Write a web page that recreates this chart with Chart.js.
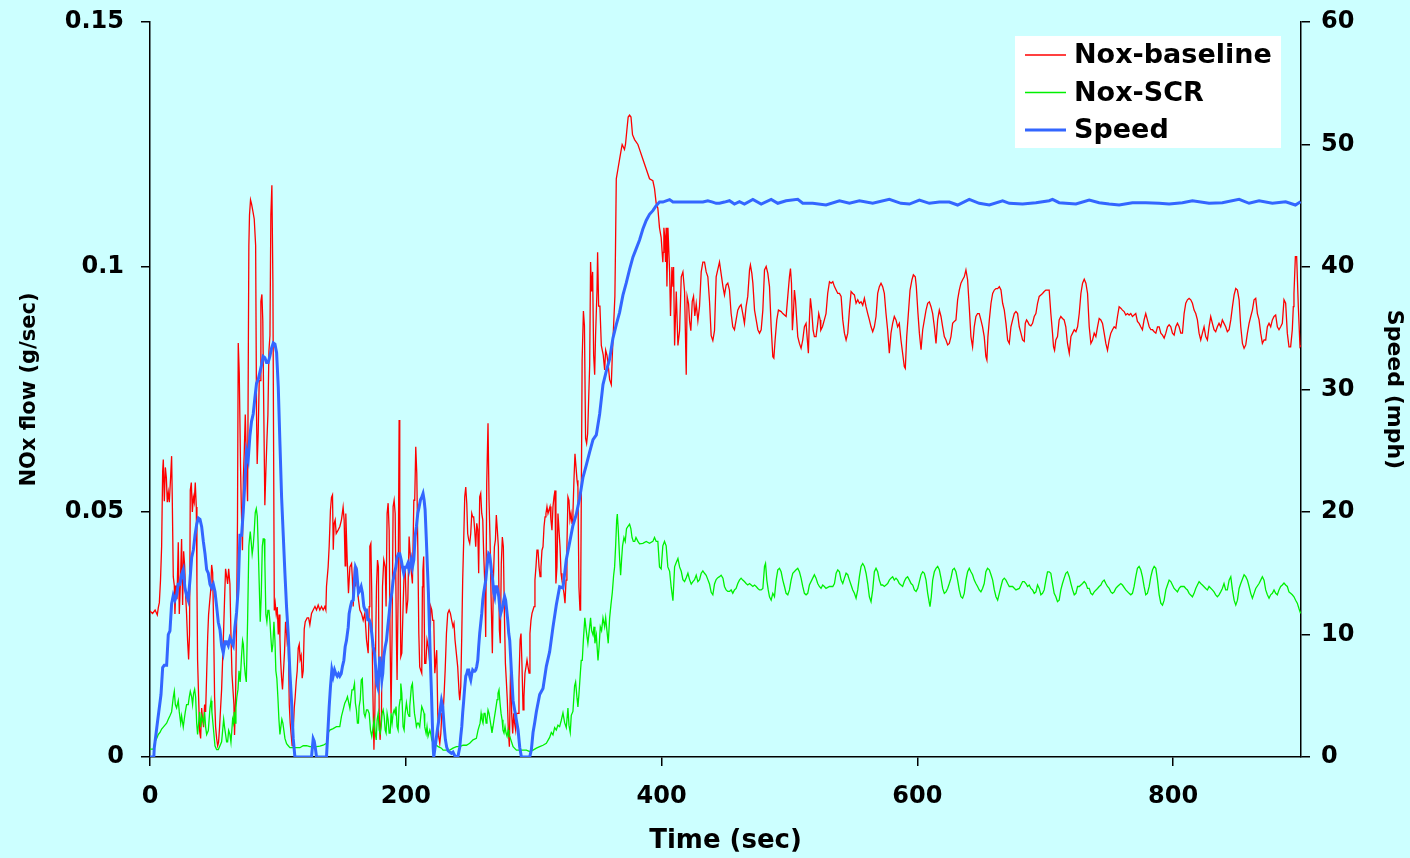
<!DOCTYPE html>
<html>
<head>
<meta charset="utf-8">
<title>NOx flow and speed</title>
<script src="https://cdn.jsdelivr.net/npm/chart.js@4"></script>
<style>
  html, body { margin: 0; padding: 0; background: #ccffff; }
  #wrap { width: 1410px; height: 858px; }
</style>
</head>
<body>
<div id="wrap"><canvas id="noxChart" width="1410" height="858"></canvas></div>
<script>
// tick values on each axis
const timeTicks = [0, 200, 400, 600, 800];
const noxTicks = [0, 0.05, 0.1, 0.15];
const noxTickLabels = ["0", "0.05", "0.1", "0.15"];
const speedTicks = [0, 10, 20, 30, 40, 50, 60];

// [time (sec), NOx flow (g/sec)] without SCR
const noxBaseline = [
  [0,.0298],[2,.0293],[4,.03],[5.7,.029],[6.5,.0305],[7.3,.0315],[8.2,.036],[9.1,.043],[9.9,.0583],[10.4,.0607],
  [11.2,.0522],[12,.0591],[12.8,.057],[13.5,.052],[14.3,.054],[15.1,.052],[16.1,.057],[16.9,.0614],[17.4,.053],[18.2,.0368],
  [19,.035],[19.5,.0292],[20.3,.035],[21.1,.0322],[22.1,.0438],[22.9,.0292],[23.7,.035],[24.7,.0445],[25.5,.031],[26.3,.042],
  [27.1,.039],[27.9,.033],[28.6,.0292],[29.4,.0237],[30.2,.0199],[30.9,.025],[31.5,.0545],[32.3,.056],[33.1,.05],[33.9,.053],
  [34.6,.052],[35.4,.056],[36.2,.051],[36.7,.0353],[37.2,.0199],[38,.0123],[38.8,.0053],[39.6,.0038],[40.4,.01],[41.1,.0077],
  [41.9,.0061],[42.7,.0107],[43.5,.0092],[44.3,.0169],[45.1,.0245],[45.8,.029],[46.6,.0315],[47.4,.0338],[48.2,.0392],[49,.0376],
  [49.7,.0276],[50.5,.0123],[51.3,.0061],[52.1,.0038],[52.9,.0023],[53.6,.003],[54.4,.0061],[55.2,.01],[56,.0138],[56.8,.0199],
  [57.6,.0261],[58.3,.0322],[59.1,.0384],[59.9,.0369],[60.7,.0353],[61.5,.0384],[62.5,.0353],[63.3,.025],[64.1,.0169],[65.6,.0107],
  [66.1,.0045],[66.9,.012],[67.7,.0276],[68.4,.048],[69,.0845],[69.8,.0783],[70.8,.0591],[71.5,.05],[72.3,.0422],[73,.057],
  [73.7,.0622],[74.5,.0699],[75.3,.0614],[76.3,.0522],[77.3,.1044],[77.8,.1106],[78.6,.1137],[79.4,.1129],[80.5,.1113],[81.5,.1098],
  [82.6,.1044],[83.3,.0699],[83.8,.0598],[84.6,.066],[85.4,.0768],[86.2,.0768],[86.7,.093],[87.5,.0944],[88.2,.0891],[89,.0699],
  [89.8,.0514],[90.6,.0583],[91.4,.0645],[92.2,.0699],[93,.0829],[93.8,.086],[94.5,.1106],[95.3,.1167],[96.1,.0967],[96.6,.066],
  [97.2,.0299],[97.9,.0314],[98.7,.0291],[99.5,.0306],[100.3,.025],[101,.0291],[101.6,.0242],[102.1,.0199],[102.9,.0161],[103.6,.0138],
  [104.4,.0176],[105.2,.0215],[106,.0276],[106.8,.0253],[107.3,.0233],[108.1,.0242],[108.9,.0107],[109.6,.007],[110.4,.0045],[111.2,.0022],
  [112,.0053],[112.8,.01],[113.5,.0122],[114.3,.0153],[115.1,.0176],[115.9,.0222],[116.7,.023],[117.4,.0199],[118.2,.0207],[119,.0161],
  [119.8,.0176],[120.6,.0261],[121.4,.0276],[122.9,.0284],[124,.0284],[125,.027],[126.3,.0293],[127.6,.03],[129,.0307],[130.2,.03],
  [131.5,.031],[132.8,.03],[134.1,.0307],[135.4,.03],[136.7,.0307],[137.5,.03],[138,.0348],[139.3,.0388],[140.1,.043],[141.1,.0504],
  [141.9,.053],[142.7,.0535],[143.3,.0423],[144,.0477],[144.8,.0484],[145.6,.0456],[147.1,.0463],[148.4,.047],[149.7,.0484],[151,.051],
  [151.8,.0484],[152.6,.039],[153.1,.0497],[154.2,.0402],[155.2,.0334],[156.3,.0388],[157.6,.0395],[158.3,.0361],[158.9,.0307],[159.9,.0388],
  [160.6,.0348],[161.5,.0388],[162.2,.0348],[163,.0321],[164.1,.03],[165.4,.0293],[166.7,.0279],[168,.0293],[169.3,.0239],[170.6,.0212],
  [171.4,.0307],[171.9,.043],[172.7,.0436],[173.4,.0334],[174.1,.0157],[175.1,.0015],[175.8,.0089],[176.6,.0259],[177.1,.0348],[177.9,.0402],
  [178.6,.0388],[179.2,.0089],[179.9,.0035],[181,.0089],[181.8,.0348],[182.8,.0402],[183.9,.0388],[184.6,.0307],[185.4,.0497],[186.2,.0518],
  [187,.0463],[187.8,.0225],[188.5,.0089],[189.3,.0253],[190.1,.0511],[190.9,.0524],[191.7,.0497],[192.7,.0239],[193.2,.0157],[194,.0327],
  [194.8,.0688],[195.3,.0497],[196.1,.0205],[196.9,.0212],[197.9,.0307],[198.7,.0375],[199.5,.0388],[200.5,.0293],[201.6,.0321],[202.6,.045],
  [203.1,.045],[204.4,.0375],[205.2,.0354],[206.3,.0524],[207,.0524],[207.8,.0633],[208.6,.0579],[209.4,.0429],[210.2,.0252],[210.9,.0184],
  [211.7,.0177],[212.5,.0171],[213,.0347],[213.4,.038],[214,.0409],[214.8,.0191],[215.7,.0191],[216.6,.0239],[217.6,.0225],[218.8,.0191],
  [219.5,.0307],[220.3,.03],[221.1,.0279],[221.9,.0279],[222.7,.0171],[223.5,.0198],[224.2,.0218],[225,.0089],[225.8,.0041],[226.6,.0028],
  [227.4,.0048],[228.2,.0089],[229.2,.0089],[230,.013],[230.8,.0177],[231.8,.0252],[232.8,.0293],[233.9,.03],[234.9,.0293],[235.9,.0279],
  [236.9,.0266],[237.7,.0273],[238.5,.0239],[240.6,.0184],[241.7,.013],[242.2,.0116],[243,.0144],[243.8,.0252],[244.5,.0361],[245.3,.0443],
  [246.1,.0531],[246.9,.0551],[247.7,.0517],[248.4,.0456],[249.2,.0443],[250,.0436],[250.8,.0456],[251.6,.0497],[252.3,.049],[253.1,.049],
  [253.9,.0463],[254.7,.0429],[255.5,.0477],[256.3,.0463],[257,.0375],[257.8,.0531],[258.6,.0538],[259.4,.0497],[260.2,.0484],[260.9,.0416],
  [261.7,.0361],[262.5,.0245],[263.3,.0559],[264.3,.0681],[265.1,.0524],[265.9,.0443],[266.7,.0327],[267.7,.0212],[268.5,.0361],[269.3,.0429],
  [270.1,.0443],[270.8,.0494],[271.6,.0463],[272.4,.0429],[273.2,.0259],[273.9,.0232],[274.7,.0395],[275.5,.0449],[276.3,.0429],[277.1,.0293],
  [277.9,.0191],[278.6,.0157],[279.4,.0116],[280.2,.0055],[281,.0021],[282,.0198],[282.8,.0089],[283.6,.0048],[284.4,.0089],[285.1,.0069],
  [285.9,.0055],[286.7,.0089],[287.8,.0089],[288.5,.0157],[289.4,.0239],[290.1,.0252],[290.9,.0184],[291.7,.0096],[292.4,.0123],[293.2,.0171],
  [294,.0184],[294.8,.0198],[295.6,.0184],[296.4,.0171],[297.1,.0252],[297.9,.0279],[298.7,.0293],[299.5,.03],[300.3,.0307],[301,.0361],
  [301.8,.0388],[302.6,.0422],[303.4,.0422],[304.2,.0388],[305,.0368],[305.7,.0388],[306.5,.0422],[307.3,.0429],[308.1,.047],[308.9,.049],
  [309.6,.0497],[310.4,.0511],[311.2,.0497],[312,.0504],[312.8,.0511],[313.5,.0484],[314.3,.0463],[315.1,.0511],[315.9,.0531],[316.7,.0544],
  [317.4,.0354],[318.2,.0388],[319,.0497],[319.8,.0463],[320.6,.0429],[321.4,.0375],[322.1,.0361],[322.9,.0348],[323.7,.0334],[324.5,.0314],
  [325.3,.0361],[326,.0429],[326.8,.0531],[327.6,.0524],[328.4,.0484],[329.2,.0497],[330,.0477],[330.7,.0497],[331.5,.0565],[332.3,.0619],
  [333.1,.0592],[333.9,.0565],[334.6,.0551],[335.4,.0347],[336.2,.03],[336.7,.03],[337.9,.081],[338.9,.091],[339.7,.088],[340.6,.065],
  [341.4,.064],[342.2,.066],[343.8,.08],[344.5,.101],[345.3,.095],[346.1,.099],[346.9,.082],[347.7,.078],[348.4,.086],[349.5,.095],
  [350,.103],[350.8,.092],[351.8,.092],[352.9,.084],[354.4,.082],[355.5,.079],[356.3,.083],[357.3,.082],[358.3,.08],[359.4,.077],
  [360.7,.076],[361.5,.082],[363.5,.094],[364,.104],[364.6,.118],[365.9,.12],[367.2,.122],[368.5,.124],[369.2,.125],[370.1,.1245],
  [371,.124],[371.8,.125],[372.9,.128],[373.9,.1306],[375,.131],[376.1,.1306],[377.3,.127],[378.9,.126],[381.5,.125],[382.8,.124],
  [385.4,.122],[388,.12],[390.6,.118],[393.2,.1176],[394.5,.116],[395.8,.113],[397.1,.112],[398.4,.108],[399.7,.106],[401,.101],
  [401.3,.103],[401.8,.108],[402.6,.106],[403.1,.101],[403.6,.108],[404.2,.096],[405,.108],[406.3,.099],[407,.09],[408.1,.1],
  [408.9,.096],[409.4,.1],[410.2,.084],[411.5,.095],[412.8,.084],[414.1,.087],[415.4,.098],[416.7,.099],[418,.095],[419.3,.078],
  [420,.094],[421.1,.0925],[421.9,.089],[422.9,.087],[424,.093],[425,.094],[426,.09],[427.1,.0925],[428.4,.089],[429.7,.092],
  [431,.099],[432.3,.101],[433.6,.101],[434.9,.099],[436.2,.098],[437.5,.093],[438.8,.086],[440.1,.085],[441.4,.087],[442.7,.098],
  [444,.0995],[445.3,.101],[448,.096],[449.2,.0943],[450.5,.0963],[451.8,.0967],[453.1,.0953],[454.4,.0905],[455.7,.0878],[457,.0872],
  [458.3,.0892],[459.6,.0912],[460.9,.0919],[462.2,.0923],[463.5,.0905],[464.8,.0885],[466.1,.0919],[467.4,.094],[468.8,.0994],[469.5,.1004],
  [470.6,.0987],[471.4,.0967],[472.7,.0912],[474,.0892],[475.3,.0872],[476.6,.0865],[477.9,.0872],[479.2,.0912],[480.5,.0994],[481.8,.1001],
  [483.1,.0987],[484.4,.096],[485.7,.0878],[487,.0817],[487.8,.0814],[488.8,.0851],[490.1,.0892],[491.4,.0912],[493.5,.0909],[494.8,.0905],
  [496.1,.0902],[497.4,.0899],[498.7,.094],[500,.098],[500.8,.0997],[501.6,.0967],[502.3,.0871],[503.1,.0905],[503.9,.0953],[504.7,.0933],
  [506.5,.0858],[507.8,.0844],[509.1,.0834],[510.4,.0851],[511.7,.0878],[513,.0885],[513.8,.0858],[514.8,.0824],[515.6,.0892],[516.4,.0936],
  [517.4,.0912],[518.5,.0871],[519.5,.0858],[520.8,.0858],[522.1,.0885],[522.9,.0905],[524,.0892],[524.5,.0871],[525.8,.0878],[527.3,.0892],
  [528.6,.0905],[529.9,.0946],[531.3,.097],[532.6,.0967],[533.9,.097],[535.2,.096],[536.5,.0953],[537.8,.0946],[539.1,.0946],[540.4,.094],
  [541.7,.0892],[543,.0865],[544.3,.0851],[545.6,.0865],[546.9,.0912],[548.2,.095],[549.5,.0946],[550.8,.0943],[552.1,.0926],[553.4,.0933],
  [554.7,.0926],[556,.0929],[557.3,.0922],[558.6,.0936],[559.9,.0919],[561.2,.0905],[562.5,.0892],[563.8,.0878],[565.1,.0868],[566.4,.0878],
  [567.7,.0899],[569,.0946],[570.3,.096],[571.6,.0967],[572.9,.096],[574.2,.0946],[575.5,.0905],[576.8,.0871],[578.1,.0824],[579.4,.0865],
  [580.7,.0885],[582,.0899],[583.3,.0892],[584.6,.0878],[585.9,.0885],[587.2,.0851],[588.5,.0824],[589.8,.0797],[590.6,.0793],[591.7,.0858],
  [593,.0905],[594.3,.0953],[595.8,.0974],[596.9,.0984],[598.4,.098],[599.2,.096],[600.5,.0905],[601.6,.0865],[602.9,.0831],[604.2,.0872],
  [605.5,.0892],[606.8,.0912],[608.1,.0926],[609.4,.0929],[610.7,.0919],[612,.0905],[613.3,.0878],[614.6,.0844],[615.9,.0892],[617.2,.0912],
  [618.5,.0899],[619.8,.0878],[621.1,.0858],[622.4,.0851],[623.7,.0841],[625,.0844],[626.3,.0858],[627.6,.0885],[628.9,.0889],[630.2,.0892],
  [631.5,.0933],[632.8,.0953],[634.1,.0967],[635.4,.0974],[636.7,.098],[638,.0994],[639.3,.0974],[640.6,.0919],[641.9,.0858],[643.2,.0837],
  [644.5,.0878],[645.8,.0899],[647.1,.0905],[648.4,.0905],[649.7,.0892],[651,.0878],[652.3,.0858],[653.6,.0817],[654.4,.081],[655.2,.0858],
  [656.3,.0892],[657.6,.0926],[658.9,.0946],[660.2,.0953],[661.5,.0956],[662.8,.0956],[664.1,.096],[665.4,.0953],[666.7,.0926],[668,.0912],
  [669.3,.0885],[670.6,.0851],[671.9,.0844],[673.2,.0878],[674.5,.0892],[675.8,.0905],[677.1,.0909],[678.4,.0905],[679.7,.0878],[681,.0865],
  [682.3,.0851],[683.6,.0848],[684.4,.0885],[685.4,.0892],[686.2,.0889],[687.5,.0882],[688.8,.088],[690.1,.0885],[691.4,.0899],[692.7,.0905],
  [694,.0926],[695.3,.094],[696.6,.0943],[697.9,.0946],[699.2,.095],[700.5,.0953],[701.8,.0953],[703.1,.0953],[704.4,.0905],[705.7,.0865],
  [706.5,.0837],[707.3,.083],[708.3,.0851],[709.6,.0858],[710.9,.0892],[712.2,.0899],[713.5,.0895],[714.8,.0892],[716.1,.0878],[717.4,.0844],
  [718.8,.0824],[720.1,.0858],[721.4,.0865],[722.7,.0872],[724,.0868],[725.3,.0878],[726.6,.0905],[727.9,.0946],[729.2,.0967],[730.5,.0975],
  [731.8,.0967],[733.1,.0946],[734.4,.0878],[735.7,.0844],[737,.0851],[738.3,.0865],[739.6,.0858],[740.9,.0878],[742.2,.0895],[743.5,.0892],
  [744.8,.0885],[746.1,.0865],[747.4,.0844],[748.7,.083],[750,.0851],[751.3,.0865],[752.6,.0872],[753.9,.0878],[755.2,.0875],[756.5,.0899],
  [757.8,.0919],[759.1,.0916],[760.4,.0912],[761.7,.0909],[763,.0902],[764.3,.0905],[765.6,.0902],[766.9,.0905],[768.2,.0899],[769.5,.0902],
  [770.8,.0905],[772.1,.0889],[773.4,.0885],[774.7,.0878],[776,.0872],[777.3,.0892],[778.6,.0905],[779.9,.0892],[781.3,.0878],[782.6,.0872],
  [783.9,.0872],[785.2,.0868],[786.5,.0865],[787.8,.0878],[789.1,.0878],[790.4,.0865],[791.7,.0861],[793,.0855],[794.3,.0865],[795.6,.0878],
  [796.9,.0882],[798.2,.0878],[799.5,.0865],[800.8,.0861],[802.1,.0878],[803.4,.0885],[804.7,.0878],[806,.0865],[807.3,.0865],[808.6,.0905],
  [809.9,.0926],[811.2,.0933],[812.5,.0936],[813.8,.0933],[815.1,.0926],[816.4,.0912],[817.7,.0905],[819,.0892],[820.3,.0865],[821.6,.0851],
  [822.9,.0865],[824.2,.0878],[825.5,.0858],[826.8,.0851],[828.1,.0878],[829.4,.0899],[830.7,.0885],[832,.0872],[833.3,.0868],[834.6,.0878],
  [835.9,.0885],[837.2,.0878],[838.5,.0892],[839.8,.0885],[841.1,.0878],[842.4,.0868],[843.8,.0872],[845.1,.0892],[846.4,.0919],[847.7,.0943],
  [849,.0956],[850.3,.0953],[851.6,.0933],[852.9,.0878],[854.2,.0844],[855.5,.0834],[856.8,.0841],[858.1,.0865],[859.4,.0885],[860.7,.0899],
  [862,.0912],[863.3,.0933],[864.6,.0936],[865.9,.0905],[867.2,.0892],[868.5,.0865],[869.8,.0844],[871.1,.0851],[872.4,.0851],[873.7,.0878],
  [875,.0885],[876.3,.0878],[877.6,.0892],[878.9,.0899],[880.2,.0902],[881.5,.0878],[882.8,.0872],[884.1,.0878],[885.4,.0885],[886.7,.0933],
  [888,.0926],[889.3,.0865],[890.6,.0837],[891.9,.0837],[893.2,.0872],[894,.0919],[894.5,.0946],[895.6,.1021],[896.6,.1021],[897.9,.092],
  [899.2,.0837],[900,.084]
];

// [time (sec), NOx flow (g/sec)] with SCR
const noxScr = [
  [0,.0016],[2.6,.0016],[3.9,.0031],[5.2,.0038],[6.5,.0046],[7.8,.005],[9.1,.0057],[10.4,.0061],[11.7,.0065],[13,.0069],
  [14.3,.0077],[15.6,.0084],[16.9,.0092],[18.2,.0122],[19,.0134],[19.8,.0107],[20.8,.01],[22.1,.0115],[22.9,.0092],[24,.0069],
  [24.7,.0084],[26,.0061],[26.8,.0077],[27.6,.0092],[28.6,.0107],[29.9,.0107],[30.7,.0122],[31.5,.0134],[32.6,.0122],[33.3,.0107],
  [34.1,.013],[34.9,.0138],[35.7,.0122],[36.5,.0069],[37.2,.0046],[38,.0069],[38.8,.0092],[39.6,.0061],[40.4,.0084],[41.1,.0077],
  [41.9,.0069],[42.7,.0092],[43.5,.0061],[44.3,.0046],[45.6,.0054],[46.9,.01],[47.7,.0115],[48.4,.0092],[49.2,.0069],[50,.0046],
  [50.8,.0023],[52.1,.0015],[53.4,.0015],[54.7,.0023],[56,.0031],[56.8,.0054],[57.6,.0077],[58.3,.0061],[59.1,.0046],[59.9,.0031],
  [60.7,.0031],[61.5,.0054],[62.5,.0046],[63.3,.003],[64.6,.0077],[65.3,.0069],[65.9,.0092],[66.6,.0069],[67.2,.01],[67.9,.0122],
  [68.8,.0138],[69.6,.0176],[70.5,.0153],[71.6,.0207],[72.4,.0238],[73,.023],[73.7,.0191],[74.5,.0168],[75.3,.0153],[76.3,.0276],
  [77.3,.043],[77.8,.0445],[78.4,.046],[79.2,.0437],[79.9,.0414],[80.7,.043],[81.5,.046],[82.3,.0499],[83.1,.0507],[83.9,.0491],
  [84.6,.043],[85.4,.0353],[86.2,.0276],[87,.033],[87.8,.043],[88.5,.0445],[89.3,.0445],[89.8,.0399],[90.6,.0291],[91.4,.0276],
  [92.2,.0299],[93,.0299],[93.8,.0276],[94.5,.0245],[95.3,.0214],[96.1,.023],[96.9,.0276],[97.7,.0238],[98.4,.0176],[99.2,.016],
  [100,.0122],[100.8,.0077],[101.6,.0046],[102.3,.0061],[103.1,.0077],[103.9,.0069],[104.7,.0054],[105.5,.0038],[106.8,.0027],[108.1,.0023],
  [109.4,.0019],[112,.0019],[114.6,.0019],[117.2,.0019],[119.8,.0023],[122.4,.0023],[125,.0021],[127.6,.0021],[130.2,.0021],[132.8,.0022],
  [135.4,.0024],[138,.0028],[139.3,.0049],[140.6,.0055],[143.2,.0058],[145.8,.0062],[148.4,.0062],[149.7,.0083],[151,.0096],[152.3,.011],
  [153.6,.0117],[154.4,.0123],[155.2,.0113],[156.3,.0099],[157.1,.0117],[157.9,.0137],[158.9,.0137],[159.9,.015],[160.6,.011],[161.4,.0096],
  [162.2,.0069],[163,.0069],[163.5,.0103],[164.4,.0117],[165.2,.0157],[166,.016],[166.7,.0117],[167.4,.0089],[168.2,.0082],[169.3,.0096],
  [170.3,.0096],[171.4,.0089],[172.4,.0055],[173.4,.0042],[174.5,.0062],[175.3,.0076],[176.1,.0049],[176.9,.0035],[177.6,.0076],[178.4,.0089],
  [179.2,.0055],[180,.0049],[180.7,.0062],[181.5,.0089],[182.3,.0096],[183.1,.0083],[183.9,.0055],[184.6,.0049],[185.4,.0089],[186.2,.0076],
  [187,.0049],[187.8,.0049],[188.5,.0089],[189.3,.0069],[190.1,.0089],[190.9,.0096],[191.7,.0089],[192.4,.0103],[193.2,.0062],[194,.0055],
  [194.8,.0103],[195.6,.0117],[196.1,.015],[196.9,.013],[197.9,.0062],[198.7,.0055],[199.5,.0089],[200.5,.011],[201.6,.0089],[202.6,.0083],
  [203.1,.0103],[204.4,.0144],[205.2,.015],[206,.0117],[206.8,.0089],[207.6,.0076],[208.3,.0062],[209.1,.0069],[209.9,.0069],[210.9,.0062],
  [211.7,.0083],[212.5,.0103],[213.5,.0096],[214.3,.0089],[214.8,.0062],[215.9,.0048],[216.6,.0062],[217.4,.0042],[218.8,.0055],[219.5,.0048],
  [220.3,.0035],[221.4,.0028],[222.7,.0021],[224,.0024],[225.3,.0021],[227.9,.0018],[229.2,.0014],[231.8,.0014],[234.4,.0014],[236.9,.0018],
  [239.6,.0021],[242.2,.0021],[244.8,.0024],[247.4,.0024],[250,.0028],[252.6,.0035],[255.2,.0038],[256.5,.0055],[257.3,.0062],[258.1,.0069],
  [258.9,.0089],[259.6,.0076],[260.4,.0069],[261.2,.0089],[262,.0089],[262.8,.0069],[263.5,.0076],[264.3,.0096],[265.1,.0089],[265.9,.0076],
  [266.7,.0062],[267.4,.0049],[268.2,.0062],[269,.0076],[269.8,.0089],[270.6,.0103],[271.4,.0117],[272.1,.013],[272.9,.0137],[273.7,.011],
  [274.5,.0089],[275.3,.0076],[276,.0055],[276.8,.0049],[277.6,.0062],[278.4,.0049],[279.2,.0042],[280,.0055],[280.7,.0042],[281.3,.0042],
  [283.9,.0021],[286.5,.0014],[289.1,.0014],[294.3,.0014],[296.9,.0011],[299.5,.0014],[302.1,.0018],[304.7,.0021],[307.3,.0024],[309.9,.0028],
  [312.5,.004],[313.8,.005],[315.1,.0045],[316.4,.006],[317.7,.0055],[319,.0065],[320.3,.0062],[321.6,.0075],[322.9,.009],[324.2,.007],
  [325.5,.006],[326.8,.01],[327.6,.0065],[328.6,.005],[329.4,.0085],[330.7,.0093],[332,.0145],[332.8,.0153],[333.9,.012],[334.6,.0102],
  [335.4,.0128],[336.5,.0171],[337.2,.0197],[338,.0197],[338.9,.024],[340,.0284],[341.1,.0258],[342.4,.0232],[343.8,.0266],[344.5,.0284],
  [345.3,.0258],[346.4,.0249],[347.2,.0266],[347.9,.0232],[349,.0249],[350.3,.0197],[351.1,.0223],[352.1,.0266],[353.1,.0258],[354.2,.0284],
  [355.5,.0266],[356.3,.0284],[357.3,.0258],[358.3,.0232],[359.4,.0284],[360.4,.031],[361.5,.0336],[362.5,.037],[363.3,.0388],[364.1,.0431],
  [364.9,.0483],[365.4,.0496],[366.1,.0466],[367.2,.0405],[368,.0371],[368.8,.0405],[369.5,.0431],[370.6,.0448],[371.6,.044],[372.6,.0466],
  [373.6,.047],[375,.0475],[376,.0466],[376.9,.0448],[377.9,.044],[379,.044],[380,.0448],[381.5,.044],[382.8,.0435],[385.4,.0436],
  [388,.044],[390.6,.0436],[393.2,.044],[394.5,.0448],[395.8,.044],[397.1,.044],[398.4,.0388],[399.7,.0384],[401,.0431],[402.3,.044],
  [403.6,.0431],[404.9,.0388],[406.3,.0379],[407.6,.0345],[408.9,.0319],[410.2,.0388],[411.5,.0397],[412.8,.0405],[414.1,.0388],[415.4,.0379],
  [416.7,.0362],[418,.0358],[419.3,.0366],[420.6,.0375],[421.9,.0362],[423.2,.0353],[424.5,.0358],[425.8,.0362],[427.1,.0371],[428.4,.0358],
  [429.7,.0362],[431,.0375],[432.3,.038],[433.6,.0375],[434.9,.0371],[436.2,.0362],[437.5,.0353],[438.8,.0336],[440.1,.0331],[441.4,.0353],
  [442.7,.0362],[444,.0366],[445.3,.0368],[446.6,.0371],[448,.0365],[449.2,.0348],[450.5,.0341],[451.8,.0338],[453.1,.0338],[454.4,.0341],
  [455.7,.0334],[457,.0341],[458.3,.0344],[459.6,.0354],[460.9,.0361],[462.2,.0365],[463.5,.0361],[464.8,.0358],[466.1,.0354],[467.4,.0351],
  [468.8,.0354],[470.1,.0351],[471.4,.0348],[472.7,.0351],[474,.0348],[475.3,.0344],[476.6,.0341],[477.9,.0341],[479.2,.0344],[480.5,.0389],
  [481.3,.0395],[482.3,.0361],[483.4,.0341],[484.4,.0327],[485.7,.032],[487,.0334],[488.3,.0327],[489.6,.0361],[490.9,.0382],[492.2,.0385],
  [493.5,.0378],[494.8,.0361],[496.1,.0348],[497.4,.0334],[498.7,.0331],[500,.0341],[501.3,.0361],[502.6,.0375],[505.2,.0382],[506.5,.0385],
  [507.8,.0378],[509.1,.0365],[510.4,.0348],[511.7,.0334],[513,.0331],[514.3,.0334],[515.6,.0351],[518.2,.0365],[519.5,.0372],[520.8,.0365],
  [522.1,.0354],[523.4,.0348],[524.7,.0344],[526,.0351],[527.3,.0348],[528.6,.0344],[531.3,.0348],[533.9,.0348],[535.2,.0354],[536.5,.0375],
  [537.8,.0382],[539.1,.0378],[540.4,.0361],[541.7,.0354],[543,.0365],[544.3,.0375],[545.6,.0372],[546.9,.0361],[548.2,.0351],[549.5,.0341],
  [550.8,.0334],[552.1,.0324],[553.4,.0341],[554.7,.0368],[556,.0389],[557.3,.0395],[558.6,.0389],[559.9,.0375],[561.2,.0354],[562.5,.0327],
  [563.8,.0317],[565.1,.0341],[566.4,.0378],[567.7,.0385],[569,.0378],[570.3,.0361],[571.6,.0351],[572.9,.0351],[574.2,.0348],[575.5,.0351],
  [576.8,.0354],[578.1,.0361],[579.4,.0365],[580.7,.0368],[582,.0361],[583.3,.0365],[584.6,.0361],[585.9,.0354],[587.2,.0351],[588.5,.0348],
  [589.8,.0358],[591.1,.0365],[592.4,.0368],[593.8,.0361],[595.1,.0354],[596.4,.0351],[597.7,.0341],[599,.0338],[600.3,.0344],[601.6,.0358],
  [602.9,.0372],[604.2,.0378],[605.5,.0375],[606.8,.0361],[608.1,.0334],[609.4,.0314],[609.9,.0307],[610.9,.0327],[612,.0361],[613.3,.0378],
  [614.6,.0385],[615.9,.0389],[617.2,.0382],[618.5,.0365],[619.8,.0344],[621.1,.0334],[622.4,.0337],[623.7,.0344],[625,.0354],[626.3,.0365],
  [627.6,.0382],[628.9,.0385],[630.2,.0378],[631.5,.0361],[632.8,.0341],[634.1,.0327],[635.4,.0324],[636.7,.0334],[638,.0361],[639.3,.0378],
  [640.6,.0385],[641.9,.0378],[643.2,.0372],[644.5,.0361],[645.8,.0354],[647.1,.0348],[648.4,.0341],[649.7,.0337],[651,.0344],[652.3,.0354],
  [653.6,.0378],[654.9,.0385],[656.3,.0382],[657.6,.0372],[658.9,.0361],[660.2,.0341],[661.5,.0327],[662.8,.032],[664.1,.0334],[665.4,.0348],
  [666.7,.0361],[668,.0365],[669.3,.0361],[670.6,.0354],[671.9,.0348],[674.5,.0348],[677.1,.0341],[679.7,.0344],[681,.0351],[682.3,.0358],
  [683.6,.0358],[684.9,.0354],[686.2,.0348],[687.5,.0351],[688.8,.0344],[690.1,.0341],[691.4,.0334],[692.7,.0337],[694,.0351],[695.3,.0344],
  [696.6,.0331],[697.9,.0334],[699.2,.0341],[700.5,.0361],[701.8,.0378],[703.1,.0378],[704.4,.0375],[705.7,.0354],[707,.0334],[708.3,.0327],
  [709.6,.0317],[710.9,.032],[712.2,.0341],[713.5,.0354],[714.8,.0365],[716.1,.0375],[717.4,.0378],[718.8,.0368],[720.1,.0354],[721.4,.0341],
  [722.7,.0331],[724,.0334],[725.3,.0348],[726.6,.0348],[729.2,.0354],[730.5,.0358],[731.8,.0354],[733.1,.0344],[734.4,.0344],[735.7,.0334],
  [737,.0331],[738.3,.0337],[740.9,.0344],[742.2,.0348],[743.5,.0351],[744.8,.0358],[746.1,.0361],[747.4,.0354],[748.7,.0348],[750,.0344],
  [751.3,.0337],[752.6,.0334],[753.9,.0337],[755.2,.0344],[756.5,.0348],[757.8,.0351],[759.1,.0354],[760.4,.0351],[763,.0341],[765.6,.0334],
  [766.9,.0331],[768.2,.0334],[769.5,.0348],[770.8,.0368],[772.1,.0385],[773.4,.0389],[774.7,.0382],[776,.0368],[777.3,.0348],[778.6,.0331],
  [779.9,.0334],[781.3,.0348],[782.6,.0368],[783.9,.0382],[785.2,.0389],[786.5,.0385],[787.8,.0361],[789.1,.0331],[790.4,.0314],[791.7,.031],
  [793,.032],[794.3,.0341],[795.6,.0351],[796.9,.0361],[798.2,.0358],[799.5,.0351],[800.8,.0344],[803.4,.0337],[804.7,.0344],[806,.0348],
  [808.6,.0348],[809.9,.0344],[811.2,.0341],[812.5,.0334],[815.1,.0327],[816.4,.0334],[817.7,.0344],[819,.0351],[820.3,.0358],[821.6,.0354],
  [822.9,.0351],[825.5,.0344],[826.8,.0341],[828.1,.0348],[830.7,.0341],[832,.0337],[833.3,.0331],[834.6,.0327],[835.9,.0331],[837.2,.0337],
  [838.5,.0344],[839.8,.0354],[841.1,.0341],[842.4,.0341],[843.8,.0361],[845.1,.0368],[846.4,.0341],[847.7,.032],[849,.031],[850.3,.032],
  [851.6,.0344],[852.9,.0354],[855.5,.0372],[856.8,.0368],[858.1,.0361],[859.4,.0348],[860.7,.0334],[862,.0324],[863.3,.0334],[864.6,.0344],
  [867.2,.0354],[868.5,.0361],[869.8,.0368],[871.1,.0361],[872.4,.0341],[873.7,.0331],[875,.0324],[876.3,.0331],[877.6,.0334],[878.9,.0341],
  [880.2,.0334],[881.5,.0331],[882.8,.0341],[884.1,.0348],[885.4,.0351],[886.7,.0355],[888,.0351],[889.3,.0348],[890.6,.0337],[891.9,.0334],
  [893.2,.0331],[894.5,.0327],[895.8,.032],[897.1,.0314],[898.4,.0303],[899.7,.0293]
];

// [time (sec), vehicle speed (mph)]
const speed = [
  [0,0],[3,0],[3.3,0.7],[5.9,2.9],[8.6,5.1],[9.9,7.3],[11.2,7.5],[13,7.5],[14.3,10],[15.6,10.3],
  [16.9,12.5],[18.2,13.2],[19.5,12.8],[20.8,13.2],[22,14.1],[23.4,14.1],[24.7,14.9],[26,15.3],[27.3,13.8],[28.6,13.2],
  [29.9,12.8],[31.3,14.5],[32.6,16.3],[33.9,16.9],[35.2,18.1],[36.5,19],[37.8,19.5],[39.1,19.4],[40.4,18.8],[41.7,17.6],
  [43,16.6],[44.3,15.3],[45.6,15],[46.9,14.1],[48.2,13.8],[49.5,14.1],[50.8,13.5],[52.1,12.3],[53.4,11],[54.7,10.4],
  [56,9.1],[57.3,8.5],[58.6,9.4],[59.9,9.4],[61.2,9.1],[62.5,9.7],[63.8,9.4],[65.1,9.1],[66.4,10.6],[67.7,11.8],
  [69,13.8],[70.3,18.1],[71.6,18.1],[72.9,20],[74.2,22.5],[75.5,24.9],[76.8,24.3],[78.1,26.2],[79.4,27.4],[80.7,28],
  [82,29.3],[83.3,30.5],[84.6,30.8],[85.9,31.4],[87.2,32],[88.5,32.7],[89.8,32.6],[91.1,32.2],[92.4,32.2],[93.7,32.7],
  [95.1,33.4],[96.4,33.8],[97.7,33.7],[99,33],[100.3,30.2],[101.6,25.6],[102.9,21.2],[104.2,18.1],[105.5,15],[106.8,12.2],
  [108.1,10],[109.4,6.9],[110.7,4.5],[112,1.5],[113.3,0],[126.3,0],[127.6,1.5],[128.4,1.3],[129.2,0.8],[130.2,0],
  [138,0],[139.3,2.5],[140.1,4.1],[141.1,5.7],[142.2,7.1],[143.2,6.6],[144.3,7.1],[145.3,6.8],[146.4,6.6],[147.4,6.8],
  [148.4,6.6],[149.5,6.8],[150.5,7.4],[151.6,7.9],[152.6,9],[153.6,9.5],[155,10.6],[155.7,11.7],[156.8,12.3],[157.8,12.7],
  [158.9,12.8],[159.9,14.4],[160.7,15.5],[161.5,15.3],[162.2,14.4],[163,13.4],[164.1,13.6],[165.1,13.9],[166.1,13.4],[167.2,12.3],
  [168.2,12],[169.3,12],[170.3,11.2],[171.4,11.2],[172.4,10.9],[173.4,10.1],[174.5,9],[175.5,8.5],[176.6,7.1],[177.3,6],
  [178.1,5.7],[178.9,6.8],[179.7,8.2],[180.5,7.4],[181.3,6.3],[182,6.8],[182.8,8.2],[183.9,9],[184.9,9.5],[185.9,10.6],
  [187,11.7],[188,12.8],[189.1,13.4],[190.1,14.4],[191.1,15],[192.2,15.5],[193.2,16.3],[194.3,16.6],[195.3,16.6],[196.4,16.1],
  [197.4,15.5],[198.4,15],[199.5,15.5],[200.5,15.5],[201.6,15.8],[202.6,15.3],[204.2,16.1],[205.2,15.5],[206.3,16.1],[207.3,18],
  [208.3,18.8],[209.4,19.9],[210.4,20.4],[211.5,21],[212.5,21.2],[213.5,21.5],[214.3,21],[215.1,20.2],[216.1,17.7],[216.9,15.5],
  [217.7,13.4],[218.5,10.6],[219.3,7.6],[220.1,5.2],[220.8,2.7],[221.4,0.8],[221.9,0],[222.9,0.8],[223.7,1.4],[224.7,2.2],
  [225.8,3],[226.8,3.8],[227.9,4.6],[228.9,4.1],[230,2.5],[231,1.4],[232,0.8],[233.1,0.5],[234.4,0.4],[235.7,0.3],
  [236.9,0.4],[238.3,0.1],[239.6,0],[240.9,0.1],[242.2,0.8],[243,1.7],[243.8,2.5],[244.5,3.6],[245.3,4.6],[246.1,5.7],
  [246.9,6.6],[247.7,6.8],[248.4,7.1],[249.2,7.1],[250,6.6],[250.8,6.3],[251.6,6.8],[252.3,7.1],[253.1,7],[253.9,7],
  [254.7,7.1],[255.5,7.4],[256.3,7.9],[257,9],[257.8,10.1],[258.6,10.9],[259.4,11.7],[260.2,12.8],[260.9,13.4],[261.7,13.9],
  [262.5,14.4],[263.3,15.3],[264.1,16.1],[264.8,16.6],[265.6,16.5],[266.4,15.8],[267.2,15],[268,14.4],[268.8,13.4],[269.5,13.1],
  [270.3,13.9],[271.1,13.9],[271.9,13.6],[272.7,13.1],[273.4,12.3],[274.2,11.7],[275,12],[275.8,12.3],[276.6,12.8],[277.3,13.1],
  [278.1,12.8],[278.9,12],[279.7,11.2],[280.5,10.1],[281.3,9.5],[282.6,7],[283.9,4.6],[285.2,3.8],[286.5,3],[287.8,2.2],
  [289.1,0.8],[290.4,0],[296.9,0],[298.2,0.6],[299.5,2],[300.8,2.8],[302.1,3.7],[304.7,5.1],[307.3,5.6],[309.9,7.4],
  [312.5,8.6],[315.1,10.6],[317.7,12.4],[320.3,13.9],[322.9,13.8],[325.5,16.1],[328.1,17.5],[330.7,18.9],[333.3,19.8],[335.9,21.1],
  [338.5,22.8],[341.1,23.8],[343.8,24.9],[346.4,25.9],[349,26.3],[351.6,28],[354.2,30.4],[356.8,31.5],[359.4,32.5],[362,34.2],
  [364.6,35.3],[367.2,36.3],[369.8,37.7],[372.4,38.7],[375,39.8],[377.6,40.8],[380.2,41.5],[382.8,42.2],[385.4,43.1],[388,43.8],
  [390.6,44.3],[393.2,44.6],[395.8,45],[398.4,45.3],[401,45.3],[403.6,45.4],[406.3,45.5],[408.9,45.3],[411.5,45.3],[416.7,45.3],
  [421.9,45.3],[427.1,45.3],[432.3,45.3],[436.2,45.4],[440,45.3],[442.7,45.2],[445.3,45.2],[449.2,45.3],[453.1,45.41],[457,45.14],
  [460.9,45.33],[464.8,45.14],[471.4,45.52],[477.9,45.14],[485.7,45.52],[490.9,45.2],[497.4,45.41],[506.5,45.52],[510.4,45.2],[518.2,45.2],
  [528.6,45.06],[539.1,45.41],[546.9,45.2],[554.7,45.41],[565.1,45.2],[578.1,45.52],[587.2,45.2],[593.8,45.14],[601.6,45.47],[609.4,45.2],
  [617.2,45.3],[625,45.3],[631.5,45.06],[640.6,45.52],[648.4,45.2],[656.3,45.06],[666.7,45.41],[671.9,45.2],[682.3,45.14],[692.7,45.25],
  [703.1,45.41],[705.7,45.52],[710.9,45.25],[724,45.14],[734.4,45.47],[742.2,45.25],[750,45.14],[757.8,45.06],[768.2,45.25],[778.6,45.25],
  [789.1,45.2],[796.9,45.14],[807.3,45.25],[815.1,45.41],[828.1,45.2],[838.5,45.25],[851.6,45.52],[859.4,45.2],[867.2,45.41],[877.6,45.2],
  [888,45.33],[895.6,45.06],[899.7,45.33]
];

const toPoints = rows => rows.map(([x, y]) => ({ x, y }));

const tickFont = { family: "'DejaVu Sans', sans-serif", size: 24, weight: "bold" };
const titleFont = size => ({ family: "'DejaVu Sans', sans-serif", size, weight: "bold" });

// paints the whole canvas in the pale cyan backdrop
const backdrop = {
  id: "backdrop",
  beforeDraw(chart) {
    const { ctx, width, height } = chart;
    ctx.save();
    ctx.fillStyle = "#ccffff";
    ctx.fillRect(0, 0, width, height);
    ctx.restore();
  }
};

// legend box sitting inside the plot, upper right
const boxLegend = {
  id: "boxLegend",
  afterDraw(chart) {
    const { ctx } = chart;
    const left = 1015, top = 36, w = 266, h = 112;
    ctx.save();
    ctx.fillStyle = "#ffffff";
    ctx.fillRect(left, top, w, h);
    ctx.font = "bold 27px 'DejaVu Sans', sans-serif";
    ctx.textBaseline = "middle";
    ctx.fillStyle = "#000";
    chart.data.datasets.forEach((ds, i) => {
      const y = top + 19 + i * 37.5;
      ctx.strokeStyle = ds.borderColor;
      ctx.lineWidth = i === 2 ? 3 : 1.5;
      ctx.beginPath();
      ctx.moveTo(left + 10, y);
      ctx.lineTo(left + 51, y);
      ctx.stroke();
      ctx.fillText(ds.label, left + 59, y + 1);
    });
    ctx.restore();
  }
};

const axisLine = { display: true, color: "#000", width: 1.5 };
const tickMarks = { drawOnChartArea: false, color: "#000", lineWidth: 1.5, tickLength: 9 };

// fixed axis boxes so the plot sits at x 150..1301, y 22..757
const fitVertical = width => axis => {
  axis.width = width;
  axis.paddingTop = 0;
  axis.paddingBottom = 0;
};
const fitHorizontal = height => axis => {
  axis.height = height;
  axis.paddingLeft = 0;
  axis.paddingRight = 0;
};

new Chart(document.getElementById("noxChart"), {
  type: "line",
  data: {
    datasets: [
      { label: "Nox-baseline", data: toPoints(noxBaseline), borderColor: "#ff0000", borderWidth: 1.3, yAxisID: "nox", order: 3 },
      { label: "Nox-SCR", data: toPoints(noxScr), borderColor: "#00f000", borderWidth: 1.3, yAxisID: "nox", order: 2 },
      { label: "Speed", data: toPoints(speed), borderColor: "#3366ff", borderWidth: 3, yAxisID: "speed", order: 1 }
    ]
  },
  options: {
    responsive: false,
    animation: false,
    layout: { autoPadding: false, padding: { top: 22, left: 0, right: 0, bottom: 0 } },
    elements: { point: { radius: 0 }, line: { tension: 0 } },
    plugins: { legend: { display: false }, tooltip: { enabled: false } },
    scales: {
      x: {
        type: "linear",
        min: 0,
        max: 900,
        afterBuildTicks: axis => { axis.ticks = timeTicks.map(value => ({ value })); },
        afterFit: fitHorizontal(101),
        border: axisLine,
        grid: tickMarks,
        ticks: { font: tickFont, color: "#000", padding: 16, maxRotation: 0, autoSkip: false },
        title: { display: true, text: "Time (sec)", font: titleFont(26), color: "#000", padding: { bottom: 1 } }
      },
      nox: {
        position: "left",
        min: 0,
        max: 0.15,
        afterBuildTicks: axis => { axis.ticks = noxTicks.map(value => ({ value })); },
        afterFit: fitVertical(150),
        border: axisLine,
        grid: tickMarks,
        ticks: {
          font: tickFont, color: "#000", padding: 17,
          callback: value => noxTickLabels[noxTicks.indexOf(value)]
        },
        title: { display: true, text: "NOx flow (g/sec)", font: titleFont(21), color: "#000", padding: { top: 17 } }
      },
      speed: {
        position: "right",
        min: 0,
        max: 60,
        afterBuildTicks: axis => { axis.ticks = speedTicks.map(value => ({ value })); },
        afterFit: fitVertical(109),
        border: axisLine,
        grid: tickMarks,
        ticks: { font: tickFont, color: "#000", padding: 11 },
        title: { display: true, text: "Speed (mph)", font: titleFont(22), color: "#000", padding: { top: 3 } }
      }
    }
  },
  plugins: [backdrop, boxLegend]
});
</script>
</body>
</html>
